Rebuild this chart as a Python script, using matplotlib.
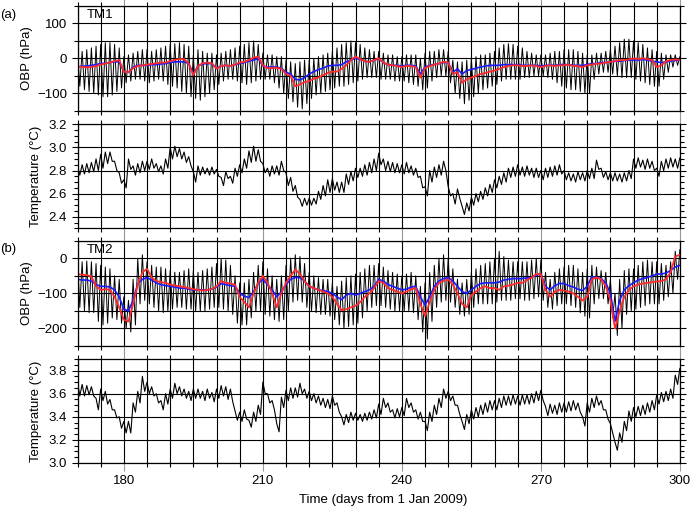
import numpy as np
import matplotlib.pyplot as plt
from matplotlib.ticker import MultipleLocator

plt.rcParams['font.family'] = ['Liberation Sans', 'DejaVu Sans']
plt.rcParams['font.size'] = 9.5

days = np.arange(170, 301)

# ---- TM1 bottom pressure (hPa): daily high / low of the tidal record, plus two smoothed curves
obp1_hi = [15, 20, 25, 30, 35, 40, 45, 45, 40, 30,
           5, 10, 15, 20, 25, 25, 20, 25, 30, 35,
           40, 42, 45, 40, 35, 10, 25, 20, 15, 15,
           10, 15, 20, 25, 30, 35, 40, 45, 50, 40,
           15, 10, 10, 5, 5, -5, -10, -15, -10, -5,
           -5, 0, 5, 10, 15, 20, 30, 40, 45, 50,
           45, 40, 30, 25, 20, 20, 15, 10, 10, 5,
           5, 10, 10, 10, 0, 15, 20, 20, 25, 25,
           20, -5, -10, -10, -5, 0, 5, 10, 10, 15,
           20, 30, 40, 42, 40, 35, 30, 20, 15, 10,
           10, 10, 15, 20, 20, 25, 25, 25, 20, 15,
           10, 10, 15, 15, 20, 25, 35, 45, 55, 55,
           50, 45, 40, 30, 25, 20, 15, 10, 10, 10,
           5]
obp1_lo = [-80, -90, -95, -100, -105, -110, -110, -105, -95, -85,
           -70, -65, -60, -60, -65, -70, -65, -60, -65, -75,
           -80, -85, -95, -100, -110, -115, -120, -110, -100, -90,
           -75, -65, -60, -60, -65, -70, -75, -70, -65, -60,
           -60, -60, -70, -85, -100, -115, -125, -140, -145, -130,
           -115, -105, -100, -95, -90, -85, -80, -80, -75, -70,
           -65, -60, -55, -55, -55, -60, -60, -60, -65, -65,
           -65, -70, -75, -80, -90, -85, -65, -55, -50, -50,
           -70, -100, -115, -130, -120, -110, -100, -90, -85, -80,
           -75, -65, -60, -60, -60, -60, -55, -55, -50, -50,
           -50, -55, -60, -70, -80, -85, -90, -90, -95, -100,
           -100, -60, -45, -40, -40, -45, -50, -55, -55, -55,
           -60, -65, -70, -75, -80, -80, -60, -40, -25, -20,
           -20]
obp1_red = [-25, -24, -26, -25, -22, -18, -15, -12, -8, -5,
            -38, -40, -28, -22, -20, -18, -16, -14, -12, -12,
            -8, -4, -2, -2, -15, -48, -22, -14, -12, -14,
            -30, -22, -20, -22, -18, -12, -10, -5, 2, 5,
            -20, -28, -28, -27, -30, -45, -50, -80, -75, -68,
            -65, -58, -55, -48, -42, -38, -38, -30, -20, -5,
            5, -2, -8, -10, -5, 0, -12, -18, -20, -22,
            -25, -22, -22, -25, -55, -28, -22, -18, -15, -10,
            -12, -45, -40, -70, -60, -55, -50, -45, -42, -38,
            -35, -30, -25, -22, -20, -20, -22, -22, -20, -22,
            -25, -22, -20, -22, -20, -20, -18, -22, -22, -25,
            -20, -18, -15, -15, -12, -10, -8, -5, -5, -3,
            0, -2, 0, -2, -5, -25, -20, -8, -5, -3,
            -5]
obp1_blue = [-25, -22, -22, -20, -18, -15, -14, -12, -10, -10,
             -38, -40, -25, -20, -20, -20, -18, -18, -16, -15,
             -12, -10, -10, -10, -15, -45, -22, -16, -15, -15,
             -28, -22, -20, -22, -18, -15, -12, -8, -5, 0,
             -22, -25, -25, -25, -28, -40, -45, -60, -62, -55,
             -45, -38, -32, -28, -22, -20, -20, -18, -10, -5,
             0, -3, -8, -10, -5, -2, -12, -18, -20, -20,
             -22, -20, -20, -22, -45, -25, -20, -18, -15, -12,
             -12, -40, -30, -45, -35, -32, -28, -25, -22, -20,
             -20, -20, -18, -18, -18, -18, -20, -20, -20, -20,
             -22, -20, -20, -20, -18, -18, -18, -20, -20, -20,
             -18, -15, -15, -12, -12, -10, -8, -8, -6, -5,
             -5, -5, -3, -5, -8, -10, -12, -10, -8, -6,
             -5]

# ---- TM1 temperature (deg C): daily high / low
temp1_hi = [2.84, 2.85, 2.86, 2.87, 2.90, 2.94, 2.96, 2.96, 2.88, 2.78,
            2.72, 2.90, 2.84, 2.86, 2.88, 2.88, 2.90, 2.86, 2.84, 2.90,
            3.00, 3.01, 2.99, 2.96, 2.92, 2.79, 2.84, 2.83, 2.82, 2.83,
            2.81, 2.74, 2.79, 2.75, 2.82, 2.85, 2.90, 2.97, 3.01, 2.98,
            2.86, 2.82, 2.84, 2.84, 2.88, 2.78, 2.74, 2.67, 2.55, 2.56,
            2.56, 2.56, 2.62, 2.67, 2.72, 2.73, 2.70, 2.70, 2.77, 2.79,
            2.82, 2.82, 2.85, 2.87, 2.90, 2.95, 2.90, 2.88, 2.87, 2.86,
            2.85, 2.87, 2.84, 2.82, 2.75, 2.66, 2.80, 2.83, 2.85, 2.88,
            2.66, 2.60, 2.64, 2.49, 2.52, 2.57, 2.60, 2.62, 2.65, 2.68,
            2.72, 2.75, 2.78, 2.82, 2.83, 2.85, 2.83, 2.84, 2.82, 2.82,
            2.80, 2.82, 2.83, 2.84, 2.85, 2.80, 2.78, 2.77, 2.79, 2.78,
            2.80, 2.82, 2.89, 2.82, 2.79, 2.78, 2.78, 2.77, 2.78, 2.80,
            2.90, 2.91, 2.89, 2.90, 2.88, 2.82, 2.88, 2.90, 2.91, 2.90,
            2.91]
temp1_lo = [2.76, 2.77, 2.78, 2.79, 2.80, 2.82, 2.86, 2.88, 2.80, 2.69,
            2.65, 2.81, 2.76, 2.78, 2.80, 2.81, 2.82, 2.79, 2.77, 2.82,
            2.90, 2.92, 2.90, 2.87, 2.84, 2.70, 2.76, 2.77, 2.76, 2.77,
            2.75, 2.67, 2.73, 2.69, 2.75, 2.78, 2.82, 2.87, 2.88, 2.88,
            2.78, 2.75, 2.77, 2.76, 2.80, 2.67, 2.62, 2.57, 2.49, 2.50,
            2.50, 2.51, 2.55, 2.58, 2.61, 2.63, 2.61, 2.61, 2.68, 2.71,
            2.74, 2.75, 2.76, 2.78, 2.80, 2.85, 2.80, 2.79, 2.78, 2.78,
            2.77, 2.78, 2.76, 2.74, 2.65, 2.58, 2.70, 2.74, 2.76, 2.80,
            2.58, 2.51, 2.56, 2.42, 2.45, 2.50, 2.53, 2.55, 2.58, 2.61,
            2.65, 2.68, 2.70, 2.74, 2.75, 2.76, 2.75, 2.76, 2.74, 2.74,
            2.72, 2.74, 2.75, 2.76, 2.77, 2.72, 2.71, 2.70, 2.72, 2.71,
            2.73, 2.73, 2.81, 2.74, 2.72, 2.71, 2.71, 2.70, 2.71, 2.73,
            2.82, 2.83, 2.81, 2.82, 2.80, 2.75, 2.80, 2.82, 2.83, 2.82,
            2.85]

# ---- TM2 bottom pressure (hPa)
obp2_hi = [-5, -10, -8, -10, -15, -20, -25, -30, -50, -60,
           -110, -120, -60, 0, 10, -10, -20, -25, -25, -30,
           -35, -40, -40, -35, -30, -35, -40, -35, -30, -25,
           -15, 0, -5, -20, -50, -70, -70, -60, -40, -20,
           -10, -30, -50, -60, -50, -20, 0, 10, 5, -15,
           -40, -50, -55, -60, -60, -70, -80, -65, -55, -50,
           -45, -40, -30, -20, -20, -15, -25, -35, -40, -45,
           -50, -45, -40, -50, -80, -70, -40, -20, 0, 10,
           0, -30, -60, -70, -60, -40, -30, -20, -15, -10,
           0, 20, 5, -5, -10, -10, -10, -10, -5, 0,
           -5, -40, -60, -40, -30, -25, -20, -20, -30, -40,
           -30, -20, -25, -35, -40, -60, -100, -60, -35, -30,
           -30, -20, -10, -5, -10, -10, -15, -20, -10, 20,
           25]
obp2_lo = [-140, -150, -155, -155, -180, -190, -185, -170, -175, -185,
           -200, -210, -190, -130, -120, -130, -140, -150, -155, -150,
           -145, -140, -140, -145, -145, -150, -150, -150, -145, -140,
           -140, -145, -150, -160, -185, -190, -190, -170, -150, -150,
           -160, -165, -175, -180, -175, -150, -125, -120, -125, -140,
           -150, -155, -160, -160, -165, -175, -190, -200, -195, -190,
           -185, -170, -150, -140, -135, -135, -140, -145, -150, -150,
           -150, -150, -155, -175, -210, -230, -180, -140, -125, -120,
           -125, -140, -160, -165, -160, -140, -130, -130, -130, -130,
           -125, -120, -120, -120, -115, -115, -120, -120, -115, -110,
           -120, -140, -145, -135, -130, -130, -135, -140, -155, -165,
           -170, -130, -115, -115, -130, -170, -220, -200, -160, -150,
           -145, -140, -135, -130, -130, -130, -120, -110, -100, -60,
           -40]
obp2_red = [-45, -47, -48, -52, -80, -90, -88, -90, -110, -140,
            -175, -180, -130, -75, -40, -30, -55, -65, -68, -70,
            -75, -78, -80, -82, -85, -88, -90, -92, -90, -88,
            -80, -65, -70, -72, -75, -110, -125, -140, -100, -70,
            -50, -70, -100, -140, -100, -70, -50, -32, -45, -65,
            -80, -85, -90, -95, -100, -110, -130, -148, -145, -140,
            -135, -125, -110, -100, -85, -65, -70, -85, -90, -95,
            -100, -95, -88, -85, -130, -165, -125, -90, -70, -65,
            -60, -75, -100, -130, -140, -105, -95, -85, -80, -85,
            -85, -90, -80, -78, -75, -70, -70, -62, -55, -45,
            -45, -90, -110, -95, -90, -92, -95, -100, -110, -120,
            -110, -60, -55, -60, -80, -120, -200, -150, -110, -90,
            -80, -75, -72, -70, -68, -66, -65, -60, -40, 5,
            10]
obp2_blue = [-60, -62, -62, -65, -75, -80, -80, -82, -90, -110,
             -145, -150, -120, -72, -60, -55, -62, -70, -75, -78,
             -80, -82, -85, -85, -88, -90, -90, -90, -90, -88,
             -82, -72, -75, -78, -80, -100, -108, -112, -95, -72,
             -60, -75, -90, -110, -95, -75, -60, -55, -55, -65,
             -80, -85, -90, -92, -95, -100, -110, -118, -105, -100,
             -105, -100, -95, -90, -80, -60, -65, -75, -80, -85,
             -90, -88, -82, -80, -110, -133, -110, -80, -65, -58,
             -55, -65, -80, -95, -100, -90, -80, -72, -70, -70,
             -70, -68, -62, -60, -58, -58, -58, -56, -55, -48,
             -45, -80, -90, -78, -72, -72, -78, -82, -88, -92,
             -80, -52, -55, -58, -70, -100, -180, -120, -90, -78,
             -70, -62, -58, -55, -50, -45, -45, -42, -35, -25,
             -20]

# ---- TM2 temperature (deg C)
temp2_hi = [3.70, 3.68, 3.67, 3.66, 3.56, 3.64, 3.62, 3.55, 3.46, 3.40,
            3.36, 3.36, 3.52, 3.62, 3.75, 3.70, 3.66, 3.60, 3.54, 3.60,
            3.64, 3.69, 3.66, 3.64, 3.62, 3.64, 3.64, 3.62, 3.64, 3.61,
            3.64, 3.67, 3.66, 3.64, 3.45, 3.44, 3.46, 3.37, 3.44, 3.50,
            3.70, 3.60, 3.54, 3.34, 3.57, 3.63, 3.65, 3.65, 3.69, 3.64,
            3.62, 3.60, 3.58, 3.56, 3.55, 3.58, 3.52, 3.40, 3.42, 3.44,
            3.43, 3.42, 3.43, 3.44, 3.46, 3.51, 3.56, 3.52, 3.46, 3.47,
            3.48, 3.56, 3.52, 3.46, 3.44, 3.36, 3.44, 3.50, 3.56, 3.64,
            3.62, 3.58, 3.50, 3.36, 3.42, 3.46, 3.48, 3.50, 3.52, 3.54,
            3.54, 3.56, 3.58, 3.58, 3.59, 3.58, 3.59, 3.59, 3.60, 3.62,
            3.63, 3.49, 3.51, 3.50, 3.52, 3.52, 3.53, 3.54, 3.52, 3.40,
            3.52, 3.56, 3.58, 3.54, 3.46, 3.34, 3.18, 3.26, 3.36, 3.45,
            3.48, 3.49, 3.50, 3.52, 3.54, 3.59, 3.61, 3.62, 3.64, 3.76,
            3.82]
temp2_lo = [3.58, 3.58, 3.59, 3.58, 3.46, 3.54, 3.51, 3.46, 3.39, 3.30,
            3.26, 3.26, 3.44, 3.52, 3.62, 3.60, 3.58, 3.52, 3.46, 3.51,
            3.56, 3.60, 3.58, 3.56, 3.54, 3.56, 3.56, 3.54, 3.56, 3.53,
            3.56, 3.58, 3.55, 3.53, 3.37, 3.36, 3.38, 3.31, 3.36, 3.42,
            3.60, 3.52, 3.46, 3.27, 3.48, 3.54, 3.56, 3.57, 3.60, 3.56,
            3.54, 3.52, 3.50, 3.48, 3.47, 3.50, 3.44, 3.33, 3.35, 3.37,
            3.37, 3.36, 3.37, 3.38, 3.39, 3.42, 3.48, 3.44, 3.39, 3.40,
            3.41, 3.48, 3.44, 3.38, 3.36, 3.28, 3.36, 3.42, 3.48, 3.56,
            3.54, 3.50, 3.42, 3.29, 3.34, 3.38, 3.40, 3.42, 3.44, 3.46,
            3.46, 3.48, 3.50, 3.50, 3.51, 3.50, 3.51, 3.51, 3.52, 3.54,
            3.54, 3.41, 3.43, 3.42, 3.44, 3.44, 3.45, 3.46, 3.44, 3.32,
            3.44, 3.48, 3.50, 3.46, 3.38, 3.26, 3.11, 3.18, 3.28, 3.36,
            3.40, 3.41, 3.42, 3.44, 3.46, 3.51, 3.53, 3.54, 3.56, 3.68,
            3.74]


def zigzag(hi, lo):
    # high at the start of each day, low half a day later
    t = np.column_stack([days, days + 0.5]).ravel()
    v = np.column_stack([hi, lo]).ravel()
    return t, v


def style(ax, ylim, ymaj, ymin, ygrid_minor, xlabels):
    ax.set_xlim(170, 300)
    ax.set_ylim(*ylim)
    ax.xaxis.set_major_locator(MultipleLocator(30))
    ax.xaxis.set_minor_locator(MultipleLocator(5))
    ax.yaxis.set_major_locator(MultipleLocator(ymaj))
    ax.yaxis.set_minor_locator(MultipleLocator(ymin))
    ax.grid(which='both', axis='x', color='k', lw=0.8)
    ax.grid(which='major', axis='y', color='k', lw=0.8)
    if ygrid_minor:
        ax.grid(which='minor', axis='y', color='k', lw=0.8)
    ax.set_axisbelow(True)
    ax.tick_params(which='both', direction='out', top=True, right=True,
                   width=0.8, labelsize=9.5)
    ax.tick_params(which='major', length=4)
    ax.tick_params(which='minor', length=3)
    ax.tick_params(axis='x', which='major', length=6, color='0.6')
    ax.tick_params(axis='x', labelbottom=xlabels, pad=3)
    for s in ax.spines.values():
        s.set_linewidth(0.9)


fig = plt.figure(figsize=(6.92, 5.09), dpi=100)
L, W = 0.112, 0.8705
ax1 = fig.add_axes([L, 0.7825, W, 0.2057])
ax2 = fig.add_axes([L, 0.5515, W, 0.2043])
ax3 = fig.add_axes([L, 0.3202, W, 0.2069])
ax4 = fig.add_axes([L, 0.0904, W, 0.2043])

t, v = zigzag(obp1_hi, obp1_lo)
ax1.plot(t, v, color='k', lw=0.7)
ax1.plot(days, obp1_blue, color='#1a1aff', lw=1.2)
ax1.plot(days, obp1_red, color='#ff2a2a', lw=1.3)
style(ax1, (-150, 150), 100, 50, True, False)
ax1.set_ylabel('OBP (hPa)', labelpad=3)
ax1.text(0.037, 0.91, 'TM1', transform=ax1.transAxes, ha='center', va='center')

t, v = zigzag(temp1_hi, temp1_lo)
ax2.plot(t, v, color='k', lw=0.8)
style(ax2, (2.3, 3.2), 0.2, 0.05, False, False)
ax2.yaxis.set_major_formatter(lambda x, p: f'{x:.1f}')
ax2.set_ylabel('Temperature (°C)', labelpad=5)

t, v = zigzag(obp2_hi, obp2_lo)
ax3.plot(t, v, color='k', lw=0.7)
ax3.plot(days, obp2_blue, color='#1a1aff', lw=1.2)
ax3.plot(days, obp2_red, color='#ff2a2a', lw=1.3)
style(ax3, (-250, 50), 100, 50, True, False)
ax3.set_ylabel('OBP (hPa)', labelpad=3)
ax3.text(0.037, 0.91, 'TM2', transform=ax3.transAxes, ha='center', va='center')

t, v = zigzag(temp2_hi, temp2_lo)
ax4.plot(t, v, color='k', lw=0.8)
style(ax4, (3.0, 3.9), 0.2, 0.05, False, True)
ax4.yaxis.set_major_formatter(lambda x, p: f'{x:.1f}')
ax4.set_ylabel('Temperature (°C)', labelpad=5)

fig.text(0.5535, 0.0177, 'Time (days from 1 Jan 2009)', ha='center', va='center')
fig.text(0.012, 0.971, '(a)', ha='center', va='center')
fig.text(0.012, 0.511, '(b)', ha='center', va='center')

fig.savefig('out.png', dpi=100)
